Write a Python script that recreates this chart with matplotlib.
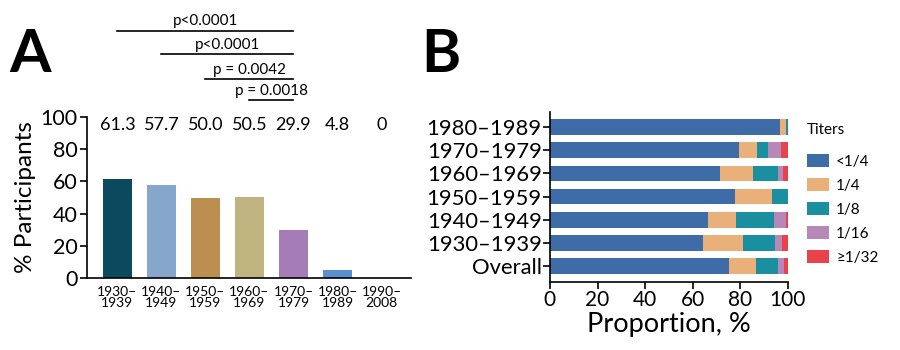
import numpy as np
import matplotlib
matplotlib.use("Agg")
import matplotlib.pyplot as plt
from matplotlib.patches import Patch

plt.rcParams['font.family'] = ['Lato', 'DejaVu Sans']

# Panel A data
decades_a = ['1930–\n1939', '1940–\n1949', '1950–\n1959', '1960–\n1969',
             '1970–\n1979', '1980–\n1989', '1990–\n2008']
pct = [61.3, 57.7, 50.0, 50.5, 29.9, 4.8, 0]
pct_labels = ['61.3', '57.7', '50.0', '50.5', '29.9', '4.8', '0']
bar_colors = ['#0b4a5e', '#86a6cc', '#bc8e4f', '#bfb47f', '#a57cb5', '#5a8fd0', '#5a8fd0']

# significance comparisons (from group, to group, label)
sig_from = [0, 1, 2, 3]
sig_to = [4, 4, 4, 4]
sig_text = ['p<0.0001', 'p<0.0001', 'p = 0.0042', 'p = 0.0018']
sig_y = [153.5, 139, 123.5, 110.5]

# Panel B data (bottom to top)
rows_b = ['Overall', '1930–1939', '1940–1949', '1950–1959',
          '1960–1969', '1970–1979', '1980–1989']
titers = ['<1/4', '1/4', '1/8', '1/16', '≥1/32']
lt4 = [75.2, 64.2, 66.5, 77.7, 71.5, 79.5, 96.5]
t4 = [11.5, 17.1, 11.5, 15.8, 13.9, 7.3, 2.5]
t8 = [9.1, 13.2, 16.2, 6.5, 10.5, 4.9, 1.0]
t16 = [2.7, 2.8, 5.1, 0.0, 2.0, 5.4, 0.0]
t32 = [1.5, 2.7, 0.7, 0.0, 2.1, 2.9, 0.0]
titer_colors = ['#3d6ca6', '#eab07a', '#1a8fa0', '#b687b7', '#e8434a']

fig = plt.figure(figsize=(9, 3.5), dpi=100)

# ---- Panel A ----
ax = fig.add_axes([0.0967, 0.2057, 0.36, 0.46])
x = np.arange(len(pct))
ax.bar(x, pct, width=0.66, color=bar_colors)
ax.set_xlim(-0.69, 6.67)
ax.set_ylim(0, 100)
ax.set_yticks([0, 20, 40, 60, 80, 100])
ax.set_xticks(x)
ax.set_xticklabels(decades_a, fontsize=10, linespacing=0.85)
ax.tick_params(axis='x', length=0, pad=6)
ax.tick_params(axis='y', labelsize=15.5, length=5, width=1.2, pad=2)
ax.spines['top'].set_visible(False)
ax.spines['right'].set_visible(False)
ax.spines['left'].set_linewidth(1.2)
ax.spines['bottom'].set_linewidth(1.2)
ax.set_ylabel('% Participants', fontsize=17.5, labelpad=3)

for xi, lab in zip(x, pct_labels):
    ax.text(xi, 95, lab, ha='center', va='center', fontsize=13, clip_on=False)

for a, b, t, yy in zip(sig_from, sig_to, sig_text, sig_y):
    ax.plot([a, b], [yy, yy], color='black', lw=1.2, clip_on=False)
    ax.text((a + b) / 2, yy + 1.5, t, ha='center', va='bottom', fontsize=11, clip_on=False)

fig.text(0.010, 0.794, 'A', fontsize=43, fontweight='bold', ha='left', va='baseline')

# ---- Panel B ----
bx = fig.add_axes([0.611, 0.194, 0.2645, 0.486])
y = np.arange(len(rows_b))
left = np.zeros(len(rows_b))
for vals, c, name in zip([lt4, t4, t8, t16, t32], titer_colors, titers):
    bx.barh(y, vals, left=left, height=0.68, color=c, label=name)
    left += np.array(vals)
bx.set_xlim(0, 100)
bx.set_ylim(-0.69, 6.65)
bx.set_xticks([0, 20, 40, 60, 80, 100])
bx.set_yticks(y)
bx.set_yticklabels(rows_b)
bx.tick_params(axis='x', labelsize=15, length=5, width=1.2, pad=1)
bx.tick_params(axis='y', labelsize=15.8, length=5, width=1.2, pad=1)
bx.spines['top'].set_visible(False)
bx.spines['right'].set_visible(False)
bx.spines['left'].set_linewidth(1.2)
bx.spines['bottom'].set_linewidth(1.2)
bx.set_xlabel('Proportion, %', fontsize=19.5, labelpad=1)

handles = [Patch(facecolor=c, edgecolor='none') for c in titer_colors]
leg = fig.legend(handles, titers, title='Titers', loc='upper left',
                 bbox_to_anchor=(0.89, 0.665), frameon=False, fontsize=11,
                 title_fontsize=11, handlelength=1.4, handleheight=0.9,
                 labelspacing=0.62, handletextpad=0.5, borderaxespad=0)
leg._legend_box.align = 'left'
leg._legend_box.sep = 12

fig.text(0.468, 0.794, 'B', fontsize=43, fontweight='bold', ha='left', va='baseline')

fig.savefig('out.png', dpi=100)
